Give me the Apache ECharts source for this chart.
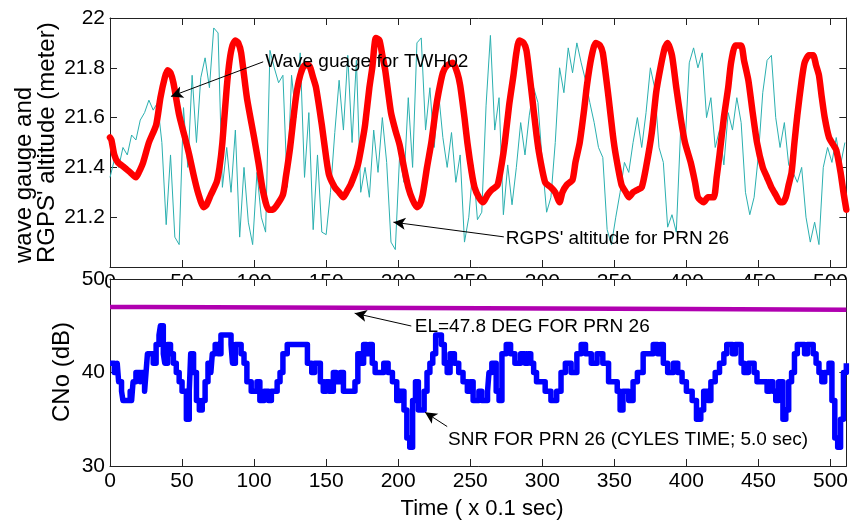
<!DOCTYPE html>
<html><head><meta charset="utf-8">
<script src="https://cdn.jsdelivr.net/npm/echarts@6/dist/echarts.min.js"></script>
<style>html,body{margin:0;padding:0;background:#fff}#c{width:851px;height:522px}</style>
</head><body><div id="c"></div>
<script>
// ---------- data ----------
const xMax = 511;
const xTickInterval = 50;
const topYTicks = [21.2, 21.4, 21.6, 21.8, 22];
const bottomYTicks = [30, 40, 50];

// wave gauge (red), [time, metres]
const waveGauge = [
[0,21.52],[1,21.51],[3,21.45],[5.5,21.42],[10,21.40],[14,21.38],[18,21.36],[20,21.38],[23,21.42],[27,21.50],[32,21.57],[35,21.68],[38,21.76],[40,21.79],[42,21.78],[44,21.74],[48,21.61],[52,21.52],[55,21.45],[58,21.37],[61,21.30],[65,21.24],[67,21.25],[70,21.29],[74,21.34],[76,21.40],[78,21.50],[81,21.72],[83,21.83],[85,21.89],[87,21.91],[89,21.90],[91,21.86],[95,21.68],[100,21.52],[103,21.42],[106,21.31],[110,21.23],[113,21.23],[116,21.25],[120,21.29],[122,21.36],[125,21.48],[129,21.68],[132,21.77],[135,21.81],[138,21.81],[141,21.76],[143,21.72],[147,21.57],[150,21.44],[152,21.37],[156,21.32],[159,21.30],[162,21.28],[165,21.31],[167,21.33],[172,21.41],[175,21.50],[177,21.57],[180,21.72],[182,21.80],[184.5,21.92],[187,21.91],[189,21.85],[191,21.79],[195,21.62],[198,21.55],[201,21.49],[204,21.40],[207,21.32],[210,21.27],[213,21.24],[215,21.25],[217,21.29],[220,21.40],[223,21.50],[226,21.63],[228,21.70],[231,21.78],[234,21.81],[238,21.82],[241,21.78],[243,21.73],[246,21.60],[248,21.50],[251,21.38],[253,21.32],[256,21.28],[259,21.26],[262,21.29],[265,21.31],[269,21.33],[272,21.42],[274,21.50],[277,21.65],[280,21.77],[282,21.86],[284,21.91],[287,21.90],[289,21.87],[291,21.78],[293,21.68],[296,21.53],[298,21.45],[302,21.34],[306,21.32],[309,21.30],[312,21.26],[314,21.30],[317,21.33],[321,21.35],[323,21.42],[326,21.50],[329,21.63],[331,21.73],[334,21.84],[337,21.90],[340,21.89],[342,21.86],[346,21.68],[349,21.53],[351,21.45],[355,21.33],[358,21.30],[360,21.28],[363,21.30],[366,21.31],[369,21.32],[372,21.40],[376,21.54],[379,21.70],[382,21.80],[385,21.88],[387,21.90],[390,21.85],[393,21.72],[396,21.60],[399,21.50],[403,21.42],[406,21.34],[408,21.28],[412,21.26],[415,21.28],[419,21.28],[421,21.36],[423,21.45],[426,21.60],[429,21.72],[431,21.82],[434,21.89],[438,21.89],[440,21.83],[443,21.75],[446,21.62],[449,21.50],[453,21.40],[456,21.36],[459,21.32],[462,21.29],[465,21.26],[467,21.26],[469,21.28],[471,21.33],[473,21.38],[475,21.50],[477,21.61],[480,21.75],[482,21.82],[485,21.85],[488,21.85],[490,21.81],[492,21.77],[494,21.68],[496,21.60],[499,21.52],[502,21.49],[504,21.47],[507,21.38],[509,21.30],[511,21.23]
];

// RGPS altitude (cyan), sampled every 3 time units starting at 0
const rgpsStep = 3;
const rgpsAltitude = [
21.36,21.43,21.40,21.48,21.45,21.53,21.51,21.59,21.62,21.67,21.63,21.66,21.50,21.17,21.45,21.12,21.09,21.64,21.40,21.77,
21.50,21.76,21.84,21.72,21.96,21.94,21.32,21.48,21.30,21.55,21.12,21.40,21.18,21.09,21.38,21.20,21.14,21.87,21.80,21.74,
21.77,21.32,21.77,21.60,21.86,21.36,21.62,21.15,21.45,21.14,21.13,21.30,21.54,21.75,21.55,21.85,21.50,21.83,21.30,21.40,
21.28,21.55,21.38,21.60,21.42,21.10,21.07,21.45,21.34,21.68,21.40,21.90,21.92,21.55,21.72,21.48,21.70,21.52,21.40,21.54,
21.34,21.45,21.10,21.20,21.41,21.19,21.22,21.65,21.93,21.55,21.68,21.21,21.41,21.25,21.40,21.58,21.45,21.61,21.72,21.66,
21.42,21.22,21.28,21.50,21.80,21.70,21.88,21.78,21.90,21.82,21.75,21.66,21.58,21.48,21.44,21.15,21.09,21.20,21.30,21.42,
21.38,21.50,21.60,21.48,21.62,21.80,21.72,21.48,21.42,21.16,21.21,21.14,21.55,21.48,21.82,21.88,21.80,21.86,21.60,21.68,
21.48,21.55,21.41,21.62,21.55,21.68,21.58,21.30,21.21,21.28,21.45,21.70,21.83,21.85,21.60,21.48,21.58,21.41,21.38,21.34,
21.40,21.20,21.10,21.18,21.09,21.40,21.48,21.42,21.52,21.41,21.50
];

// SNR (blue), [time, dB] change points (held until the next point)
const snr = [
[0,41],[3,40],[5,41],[6,39],[8,38],[9,37],[14,38],[15,37],[16,39],[18,40],[21,39],[22,40],[24,38],[25,40],[26,42],[30,41],[32,43],[34,44],[35,45],[37,42],[38,41],[40,43],[42,42],[44,41],[46,40],[48,39],[50,38],[53,35],[55,38],[56,42],[58,40],[60,37],[62,36],[64,37],[66,39],[68,41],[70,40],[71,42],[73,43],[75,42],[77,44],[84,43],[85,41],[87,43],[91,42],[93,41],[95,39],[98,38],[102,39],[104,37],[107,38],[110,37],[112,38],[116,39],[118,40],[120,42],[123,43],[137,41],[140,40],[142,41],[146,39],[148,38],[150,39],[152,38],[155,40],[157,39],[160,40],[162,38],[170,39],[172,42],[174,41],[176,43],[178,42],[180,43],[182,41],[184,40],[190,41],[193,40],[196,39],[199,37],[201,38],[204,36],[206,33],[208,32],[210,37],[212,39],[214,36],[216,36],[218,38],[220,40],[222,41],[224,42],[226,44],[230,43],[232,41],[234,40],[236,42],[239,41],[242,40],[245,39],[248,38],[250,39],[252,37],[256,38],[258,37],[262,38],[263,40],[265,41],[268,38],[270,37],[272,42],[275,43],[278,42],[281,41],[285,42],[288,41],[290,42],[292,41],[294,40],[296,39],[302,38],[306,37],[310,38],[313,40],[316,41],[320,40],[324,42],[327,43],[330,42],[334,41],[338,42],[342,41],[346,39],[352,38],[354,36],[356,38],[360,37],[363,39],[366,40],[370,42],[374,42],[377,43],[380,42],[382,43],[384,41],[387,40],[391,41],[394,40],[397,39],[400,38],[404,37],[407,35],[410,36],[412,38],[415,37],[417,39],[420,40],[423,41],[426,42],[428,43],[432,42],[434,43],[438,41],[440,40],[443,41],[447,40],[449,39],[454,39],[456,38],[458,39],[460,38],[462,37],[464,39],[467,35],[469,36],[471,39],[473,40],[475,42],[477,43],[482,42],[484,43],[488,42],[490,41],[492,40],[494,39],[496,40],[499,41],[501,37],[503,33],[505,32],[507,35],[509,40],[511,41]
];

// elevation marker line (magenta), [time, value on dB axis]
const elevation = [[0,47.0],[24,46.9],[211,46.8],[398,46.7],[511,46.7]];

// annotations: text anchor (left/middle), arrow start, arrow tip — data coords
const annotations = [
  {panel:0, text:'Wave guage for TWH02', at:[107.7,21.824], from:[106.3,21.824], to:[42.3,21.685]},
  {panel:0, text:"RGPS' altitude for PRN 26", at:[274.7,21.115], from:[273.3,21.121], to:[196.7,21.180]},
  {panel:1, text:'EL=47.8 DEG FOR PRN 26', at:[211.5,44.87], from:[209.1,44.97], to:[169.8,46.34]},
  {panel:1, text:'SNR FOR PRN 26 (CYLES TIME; 5.0 sec)', at:[234.6,32.83], from:[234,34.22], to:[218.6,35.75]}
];

const topYTitle = ["wave gauge and", "RGPS' altitude (meter)"];
const bottomYTitle = 'CNo (dB)';
const xTitle = 'Time ( x 0.1 sec)';

// ---------- chart ----------
const FONT = "'Liberation Sans', Arial, sans-serif";
const AX = '#222';
const chart = echarts.init(document.getElementById('c'), null, {renderer:'canvas'});

function xAx(grid, pos, labels, z) {
  return {
    type:'value', gridIndex:grid, position:pos, min:0, max:xMax, interval:xTickInterval, z:z,
    axisLine:{show:true, onZero:false, lineStyle:{color:AX, width:1}},
    axisTick:{show:true, inside:true, length:7, lineStyle:{color:AX}},
    axisLabel:{show:labels, fontFamily:FONT, fontSize:21, color:'#000', margin:5, showMaxLabel:false,
      formatter:v => (v % xTickInterval === 0 ? String(v) : '')},
    splitLine:{show:false}
  };
}
function yAx(grid, pos, labels, min, max, interval, fmt, z) {
  return {
    type:'value', gridIndex:grid, position:pos, min:min, max:max, interval:interval, z:z,
    axisLine:{show:true, onZero:false, lineStyle:{color:AX, width:1}},
    axisTick:{show:true, inside:true, length:7, lineStyle:{color:AX}},
    axisLabel:{show:labels, fontFamily:FONT, fontSize:21, color:'#000', margin:5, formatter:fmt},
    splitLine:{show:false}
  };
}
const topFmt = v => { const r = Math.round(v*10)/10; return topYTicks.some(t => Math.abs(t-r)<1e-6) ? (r===22?'22':r.toFixed(1)) : ''; };
const botFmt = v => bottomYTicks.indexOf(Math.round(v)) >= 0 ? String(Math.round(v)) : '';

const arrowLine = (panel) => ({
  silent:true, symbol:['none','arrow'], symbolSize:[9,12], animation:false,
  label:{show:false}, lineStyle:{color:'#000', width:1, type:'solid'}, itemStyle:{color:'#000'},
  emphasis:{disabled:true},
  data: annotations.filter(a => a.panel===panel).map(a => [{coord:a.from},{coord:a.to}])
});

chart.setOption({
  animation:false,
  backgroundColor:'#fff',
  grid:[
    {left:110, right:1, top:18, height:249},
    {left:110, right:1, top:279, height:187}
  ],
  xAxis:[ xAx(0,'bottom',true,0), xAx(0,'top',false,0), xAx(1,'bottom',true,3), xAx(1,'top',false,3) ],
  yAxis:[
    yAx(0,'left',true,21,22,0.2,topFmt,0), yAx(0,'right',false,21,22,0.2,topFmt,0),
    yAx(1,'left',true,30,50,10,botFmt,3), yAx(1,'right',false,30,50,10,botFmt,3)
  ],
  series:[
    {type:'line', xAxisIndex:0, yAxisIndex:0, showSymbol:false, z:2,
     data: rgpsAltitude.map((v,i) => [i*rgpsStep, v]),
     lineStyle:{color:'#2bb0b0', width:1}},
    {type:'line', xAxisIndex:0, yAxisIndex:0, showSymbol:false, z:2, smooth:0.2,
     data: waveGauge, lineStyle:{color:'#ff0000', width:6.5, cap:'round', join:'round'},
     markLine: arrowLine(0)},
    {type:'line', xAxisIndex:2, yAxisIndex:2, showSymbol:false, z:4, step:'end',
     data: elevation, lineStyle:{color:'#b000b0', width:4.5}},
    {type:'line', xAxisIndex:2, yAxisIndex:2, showSymbol:false, z:4, step:'end',
     data: snr, lineStyle:{color:'#0000ff', width:5.5, join:'round'},
     markLine: arrowLine(1)}
  ]
});

// text annotations and axis titles
const g = [
  {type:'rect', shape:{x:110, y:279, width:741, height:187}, style:{fill:'#fff'}, z:1, silent:true}
];
annotations.forEach(a => {
  const p = chart.convertToPixel({xAxisIndex: a.panel===0?0:2, yAxisIndex: a.panel===0?0:2}, a.at);
  g.push({type:'text', x:p[0], y:p[1], z:10, silent:true,
    style:{text:a.text, fontFamily:FONT, fontSize:19, fill:'#000', textAlign:'left', textVerticalAlign:'middle'}});
});
g.push({type:'text', x:24, y:263, rotation:Math.PI/2, z:10, silent:true,
  style:{text:topYTitle[0], fontFamily:FONT, fontSize:24, fill:'#000', textAlign:'left', textVerticalAlign:'middle'}});
g.push({type:'text', x:47, y:263, rotation:Math.PI/2, z:10, silent:true,
  style:{text:topYTitle[1], fontFamily:FONT, fontSize:24, fill:'#000', textAlign:'left', textVerticalAlign:'middle'}});
g.push({type:'text', x:62, y:372, rotation:Math.PI/2, z:10, silent:true,
  style:{text:bottomYTitle, fontFamily:FONT, fontSize:24, fill:'#000', textAlign:'center', textVerticalAlign:'middle'}});
g.push({type:'text', x:482, y:509, z:10, silent:true,
  style:{text:xTitle, fontFamily:FONT, fontSize:22, fill:'#000', textAlign:'center', textVerticalAlign:'middle'}});
chart.setOption({graphic: g});
</script>
</body></html>
